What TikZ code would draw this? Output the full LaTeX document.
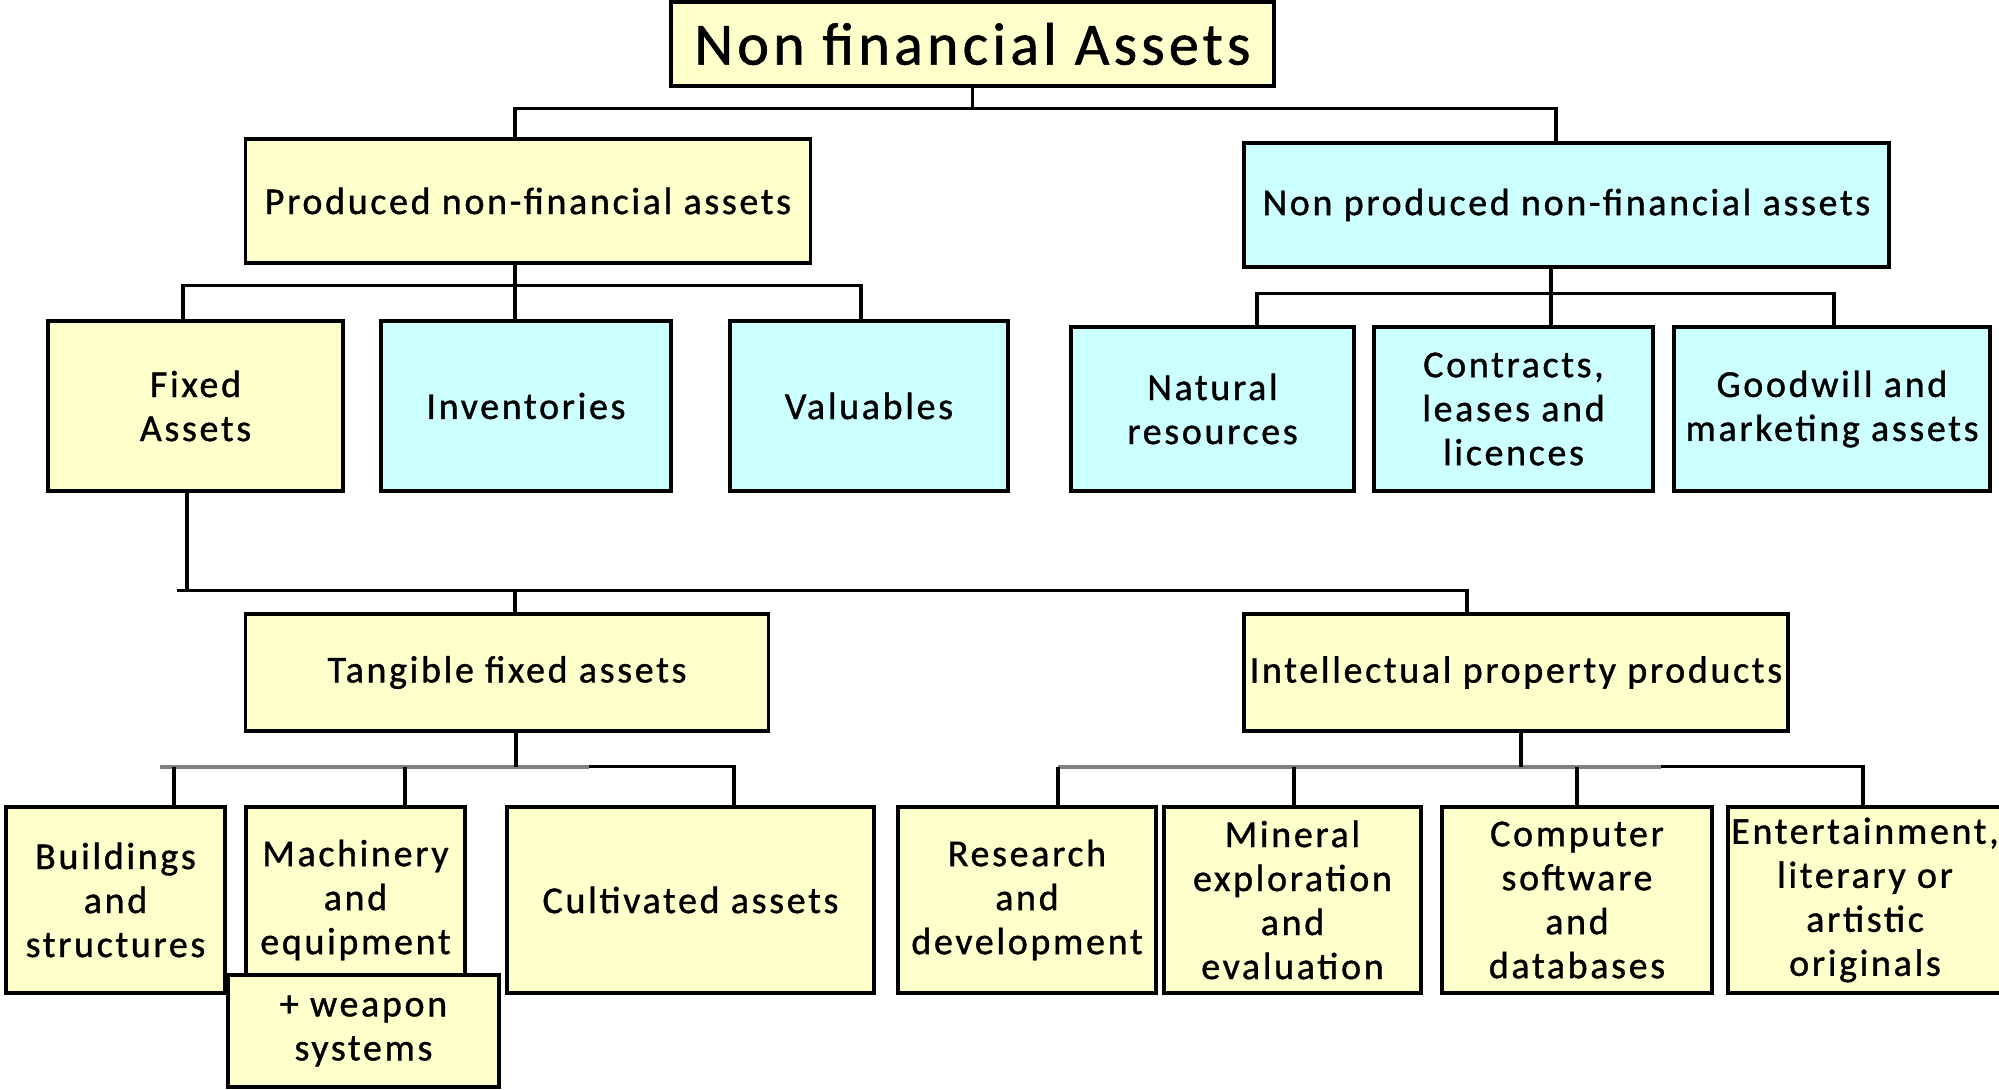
\documentclass[tikz,border=0pt]{standalone}
\usepackage{fontspec}
\setmainfont{Carlito}[LetterSpace=7, FakeBold=1]
\usepackage{xcolor}
\definecolor{ylw}{RGB}{255,255,204}
\definecolor{cyn}{RGB}{204,255,255}
\usetikzlibrary{calc}

\begin{document}
\begin{tikzpicture}[x=0.5pt,y=-0.5pt,
  ybox/.style={draw, line width=1.8pt, fill=ylw, align=center, inner sep=0pt, font=\fontsize{19}{22}\selectfont},
  cbox/.style={ybox, fill=cyn},
  link/.style={line width=1.7pt},
  fadelink/.style={line width=1.8pt, draw=gray}]
\useasboundingbox (0,0) rectangle (1999,1090);

\node[ybox, minimum width=301.5pt, minimum height=42pt, font=\fontsize{30}{34}\selectfont] (top) at (972.5,44) {Non financial Assets};
\node[ybox, minimum width=282.5pt, minimum height=62pt] (prod) at (528,201) {Produced non-financial assets};
\node[cbox, minimum width=322.5pt, minimum height=62pt] (nonprod) at (1566.5,205) {Non produced non-financial assets};

%produced branch
\node[ybox, minimum width=147.5pt, minimum height=85pt] (fixed) at (195.5,406) {Fixed\\Assets};
\node[cbox, minimum width=145.25pt, minimum height=85pt] (inv) at (526,406) {Inventories};
\node[cbox, minimum width=139pt, minimum height=85pt] (val) at (869,406) {Valuables};

%non produced branch
\node[cbox, minimum width=141.5pt, minimum height=82pt] (natres) at (1212.5,409) {Natural\\resources};
\node[cbox, minimum width=139.5pt, minimum height=82pt] (contr) at (1513.5,409) {Contracts,\\leases and\\licences};
\node[cbox, minimum width=158pt, minimum height=82pt] (goodw) at (1832,409) {Goodwill and\\marketing assets};

%fixed assets
\node[ybox, minimum width=261.5pt, minimum height=58.5pt] (tang) at (507,672.5) {Tangible fixed assets};
\node[ybox, minimum width=272pt, minimum height=58.5pt] (ipp) at (1516,672.5) {Intellectual property products};

%tangible
\node[ybox, minimum width=109.5pt, minimum height=93pt] (build) at (115.5,900) {Buildings\\and\\structures};
\node[ybox, minimum width=109.5pt, minimum height=93pt] (mach) at (355.5,900) {Machinery\\and\\equipment};
\node[ybox, minimum width=135.5pt, minimum height=56pt] (weap) at (363.5,1031) {+ weapon\\systems}; %over the machinery box
\node[ybox, minimum width=183.5pt, minimum height=93pt] (cult) at (690.5,900) {Cultivated assets};

%intellectual property
\node[ybox, minimum width=129pt, minimum height=93pt] (rnd) at (1027,900) {Research\\and\\development};
\node[ybox, minimum width=128.5pt, minimum height=93pt] (mineral) at (1292.5,900) {Mineral\\exploration\\and\\evaluation};
\node[ybox, minimum width=134.75pt, minimum height=93pt] (soft) at (1577,900) {Computer\\software\\and\\databases};
\node[ybox, minimum width=137pt, minimum height=93pt] (ent) at (1865,900) {Entertainment,\\literary or\\artistic\\originals};

%%%%%%%%%%%%%%%%%%%%%%%%%%%%%%%%%%%%%%%%%%%%%%%%%%%%%%%%%%%%%%%%%%%%%%%%%%%%%%%%%%%%
\draw[link] (top.south) -- ++(0,20.5) coordinate (jtop);
\draw[link] ([xshift=-6.5pt]prod.north) |- (jtop) -| ([xshift=-5.25pt]nonprod.north); %top bus

\coordinate (jprod) at ([xshift=-6.5pt,yshift=-10.5pt]prod.south);
\draw[link] ([xshift=-6.5pt]prod.south) -- ([xshift=-5.5pt]inv.north);
\draw[link] ([xshift=-6.25pt]fixed.north) |- (jprod) -| ([xshift=-4pt]val.north);

\coordinate (jnon) at ([xshift=-7.75pt,yshift=-12.5pt]nonprod.south);
\draw[link] ([xshift=-7.75pt]nonprod.south) -- ([xshift=18.75pt]contr.north);
\draw[link] ([xshift=22.25pt]natres.north) |- (jnon) -| ([xshift=1pt]goodw.north);

\draw[link] ([xshift=-4.25pt]fixed.south) -- ++(0,98) coordinate (jfix);
\draw[link] ([xshift=-5pt]jfix) -| ([xshift=-24.5pt]ipp.north); %long bus
\draw[link] ([xshift=4pt]tang.north) -- ([xshift=4pt]tang.north |- jfix);

%tangible bus
\coordinate (jtan) at ([xshift=4.5pt,yshift=-17pt]tang.south);
\draw[fadelink] ([xshift=22.25pt]build.north |- jtan) -- ([xshift=36.5pt]jtan);
\draw[link] ([xshift=36.5pt]jtan) -| ([xshift=21.75pt]cult.north);
\draw[link] ([xshift=4.5pt]tang.south) -- (jtan);
\draw[link] ([xshift=29.25pt]build.north) -- ([xshift=29.25pt]build.north |- jtan);
\draw[link] ([xshift=24.75pt]mach.north) -- ([xshift=24.75pt]mach.north |- jtan);

%intellectual bus
\coordinate (jip) at ([xshift=2.5pt,yshift=-17pt]ipp.south);
\draw[fadelink] ([xshift=15.5pt]rnd.north |- jip) -- ([xshift=70pt]jip);
\draw[link] ([xshift=70pt]jip) -| ([xshift=-1pt]ent.north);
\draw[link] ([xshift=2.5pt]ipp.south) -- (jip);
\draw[link] ([xshift=15.5pt]rnd.north) -- ([xshift=15.5pt]rnd.north |- jip);
\draw[link] ([xshift=0.75pt]mineral.north) -- ([xshift=0.75pt]mineral.north |- jip);
\draw[link] (soft.north) -- (soft.north |- jip);
\end{tikzpicture}
\end{document}
